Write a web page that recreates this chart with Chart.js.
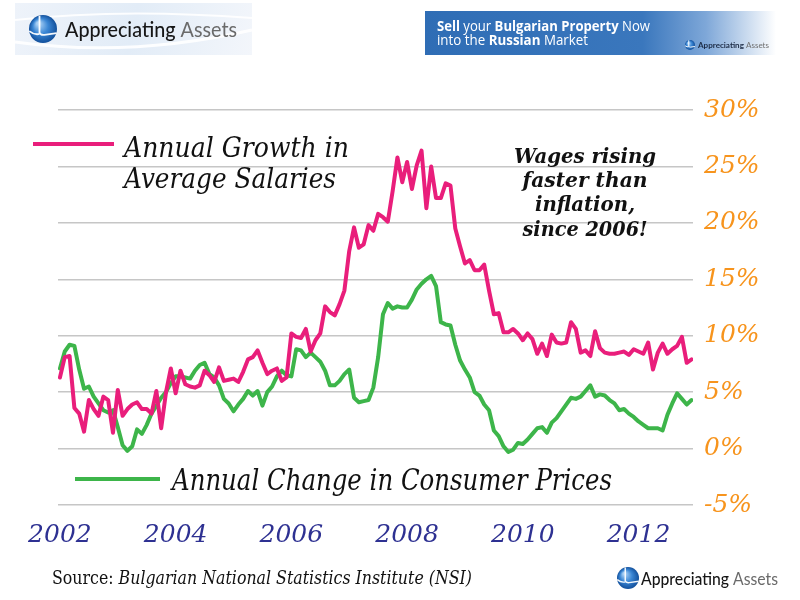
<!DOCTYPE html>
<html>
<head>
<meta charset="utf-8">
<script src="https://cdn.jsdelivr.net/npm/chart.js@4.4.1/dist/chart.umd.min.js"></script>
<style>
html,body{margin:0;padding:0;background:#ffffff;}
#wrap{position:relative;width:800px;height:600px;}
</style>
</head>
<body>
<div id="wrap"><canvas id="c" width="800" height="600"></canvas></div>
<script>
// ---- data (monthly, Jan 2002 .. Dec 2012), % year-on-year ----
const YEAR_LABELS = ['2002','2004','2006','2008','2010','2012'];
const YEAR_TICK_MONTHS = [0,24,48,72,96,120];

const SALARY_GROWTH = [
  6.3, 8.1, 8.2, 3.6, 3.1, 1.5, 4.3, 3.5, 2.9, 4.6, 4.3, 1.4,
  5.2, 2.9, 3.5, 3.9, 4.1, 3.5, 3.5, 3.1, 5.1, 1.8, 5.0, 7.1,
  4.9, 6.9, 5.7, 5.5, 5.4, 5.6, 6.9, 6.5, 5.9, 7.2, 6.0, 6.1,
  6.2, 5.9, 6.8, 7.9, 8.1, 8.7, 7.6, 6.6, 6.9, 7.1, 6.0, 6.3,
  10.2, 9.9, 9.8, 10.6, 8.6, 9.6, 10.2, 12.6, 12.1, 11.8, 12.8, 14.0,
  17.5, 19.6, 17.8, 18.1, 19.8, 19.3, 20.8, 20.5, 20.1, 22.8, 25.8, 23.6,
  25.4, 23.0, 25.1, 26.4, 21.3, 25.0, 22.2, 22.2, 23.5, 23.3, 19.5, 17.9,
  16.4, 16.7, 15.8, 15.8, 16.3, 14.0, 11.9, 12.0, 10.3, 10.3, 10.6, 10.2,
  9.6, 10.2, 9.7, 8.4, 9.3, 8.2, 10.1, 9.4, 9.3, 9.4, 11.2, 10.6,
  8.5, 8.7, 8.2, 10.4, 8.9, 8.5, 8.4, 8.4, 8.5, 8.6, 8.3, 8.8,
  8.6, 8.4, 9.4, 7.0, 8.5, 9.3, 8.4, 8.8, 9.1, 9.9, 7.6, 7.9
];

const CPI_CHANGE = [
  7.1, 8.6, 9.2, 9.1, 7.0, 5.3, 5.5, 4.6, 4.0, 3.4, 3.2, 3.4,
  1.9, 0.3, -0.2, 0.2, 1.7, 1.3, 2.1, 3.1, 3.8, 4.5, 5.0, 5.8,
  6.4, 6.4, 6.3, 6.2, 6.9, 7.4, 7.6, 6.6, 6.3, 5.6, 4.4, 4.0,
  3.3, 3.9, 4.4, 5.1, 4.7, 5.1, 3.8, 5.0, 5.5, 6.4, 6.9, 6.5,
  6.4, 8.8, 8.7, 8.1, 8.5, 8.1, 7.7, 6.9, 5.6, 5.6, 6.0, 6.6,
  7.0, 4.5, 4.1, 4.2, 4.3, 5.4, 8.1, 11.9, 12.9, 12.4, 12.6, 12.5,
  12.5, 13.2, 14.1, 14.6, 15.0, 15.3, 14.4, 11.2, 11.0, 10.9, 9.2, 7.8,
  7.0, 6.3, 5.0, 4.7, 3.9, 3.4, 1.6, 1.1, 0.2, -0.3, -0.1, 0.5,
  0.4, 0.8, 1.3, 1.8, 1.9, 1.4, 2.3, 2.7, 3.3, 3.9, 4.5, 4.4,
  4.6, 5.1, 5.6, 4.6, 4.8, 4.7, 4.3, 4.0, 3.4, 3.5, 3.1, 2.8,
  2.4, 2.1, 1.8, 1.8, 1.8, 1.6, 3.0, 4.0, 4.9, 4.4, 3.9, 4.3
];

const SALARY_LABEL = ['Annual Growth in', 'Average Salaries'];
const CPI_LABEL = 'Annual Change in Consumer Prices';
const NOTE_LINES = ['Wages rising', 'faster than', 'inflation,', 'since 2006!'];

const PINK = '#e91e7b';
const GREEN = '#3db54a';

// ---- drawing helpers ----
function drawRuns(ctx, runs, x, baseline, width, align) {
  ctx.save();
  let total = 0;
  runs.forEach(r => { ctx.font = r.font; r.w = ctx.measureText(r.t).width; total += r.w; });
  const s = width / total;
  let startX = x;
  if (align === 'center') startX = x - width / 2;
  ctx.translate(startX, baseline);
  ctx.scale(s, 1);
  ctx.textBaseline = 'alphabetic';
  ctx.textAlign = 'left';
  let cx = 0;
  runs.forEach(r => { ctx.font = r.font; ctx.fillStyle = r.color; ctx.fillText(r.t, cx, 0); cx += r.w; });
  ctx.restore();
}

function drawGlobe(ctx, cx, cy, r) {
  ctx.save();
  const g = ctx.createRadialGradient(cx - r*0.35, cy - r*0.4, r*0.1, cx, cy, r);
  g.addColorStop(0, '#a9d0f5');
  g.addColorStop(0.5, '#3a86d4');
  g.addColorStop(1, '#12509c');
  ctx.fillStyle = g;
  ctx.beginPath(); ctx.arc(cx, cy, r, 0, Math.PI*2); ctx.fill();
  ctx.strokeStyle = 'rgba(255,255,255,0.95)';
  ctx.lineWidth = Math.max(1, r*0.13);
  ctx.beginPath();
  ctx.moveTo(cx - r*0.25, cy - r*0.95);
  ctx.lineTo(cx - r*0.25, cy + r*0.25);
  ctx.quadraticCurveTo(cx - r*0.2, cy + r*0.45, cx + r*0.1, cy + r*0.42);
  ctx.lineTo(cx + r*0.98, cy + r*0.3);
  ctx.stroke();
  ctx.beginPath();
  ctx.moveTo(cx - r*0.98, cy + r*0.15);
  ctx.quadraticCurveTo(cx - r*0.6, cy + r*0.45, cx - r*0.25, cy + r*0.35);
  ctx.stroke();
  ctx.restore();
}

const decor = {
  id: 'decor',
  afterDraw(chart) {
    const ctx = chart.ctx;
    ctx.save();

    // header logo (left)
    const lg = ctx.createLinearGradient(15, 0, 252, 55);
    lg.addColorStop(0, '#eef3fa');
    lg.addColorStop(0.5, '#e2ecf7');
    lg.addColorStop(1, '#f3f6fb');
    ctx.fillStyle = lg;
    ctx.fillRect(15, 3, 237, 52);
    ctx.strokeStyle = 'rgba(255,255,255,0.9)';
    ctx.lineWidth = 3;
    ctx.beginPath(); ctx.moveTo(15, 42); ctx.quadraticCurveTo(130, 58, 252, 30); ctx.stroke();
    ctx.lineWidth = 2;
    ctx.beginPath(); ctx.moveTo(15, 20); ctx.quadraticCurveTo(120, 8, 252, 18); ctx.stroke();
    drawGlobe(ctx, 43, 29, 14);
    drawRuns(ctx, [
      {t:'Appreciating', font:'500 21px Lato', color:'#161616'},
      {t:' Assets', font:'21px Lato', color:'#6a6a6a'}
    ], 65, 37, 172);

    // header banner (right)
    const bg = ctx.createLinearGradient(425, 0, 776, 0);
    bg.addColorStop(0, '#2f6db5');
    bg.addColorStop(0.62, '#3a77bd');
    bg.addColorStop(0.8, '#7ea7d8');
    bg.addColorStop(1, '#ffffff');
    ctx.fillStyle = bg;
    ctx.fillRect(425, 11, 351, 44);
    drawRuns(ctx, [
      {t:'Sell', font:'bold 15px "Open Sans"', color:'#ffffff'},
      {t:' your ', font:'15px "Open Sans"', color:'#ffffff'},
      {t:'Bulgarian Property', font:'bold 15px "Open Sans"', color:'#ffffff'},
      {t:' Now', font:'15px "Open Sans"', color:'#ffffff'}
    ], 437, 31, 213);
    drawRuns(ctx, [
      {t:'into the ', font:'15px "Open Sans"', color:'#ffffff'},
      {t:'Russian', font:'bold 15px "Open Sans"', color:'#ffffff'},
      {t:' Market', font:'15px "Open Sans"', color:'#ffffff'}
    ], 437, 45, 151);
    drawGlobe(ctx, 690, 45, 5);
    drawRuns(ctx, [
      {t:'Appreciating', font:'bold 8px Lato', color:'#1c2b45'},
      {t:' Assets', font:'8px Lato', color:'#707070'}
    ], 698, 48, 71);

    // salaries legend
    ctx.strokeStyle = PINK; ctx.lineWidth = 4; ctx.lineCap = 'butt';
    ctx.beginPath(); ctx.moveTo(33, 144); ctx.lineTo(114, 144); ctx.stroke();
    drawRuns(ctx, [{t:SALARY_LABEL[0], font:'italic 27px "DejaVu Serif"', color:'#111111'}], 124, 157, 225);
    drawRuns(ctx, [{t:SALARY_LABEL[1], font:'italic 27px "DejaVu Serif"', color:'#111111'}], 124, 188, 212);

    // annotation
    const noteW = [142, 125, 100, 125];
    const noteB = [163, 187, 211, 236];
    NOTE_LINES.forEach((t, i) => {
      drawRuns(ctx, [{t, font:'bold italic 20px "DejaVu Serif"', color:'#111111'}], 585, noteB[i], noteW[i], 'center');
    });

    // CPI legend
    ctx.strokeStyle = GREEN; ctx.lineWidth = 4;
    ctx.beginPath(); ctx.moveTo(75, 479); ctx.lineTo(160, 479); ctx.stroke();
    drawRuns(ctx, [{t:CPI_LABEL, font:'italic 29px "DejaVu Serif"', color:'#111111'}], 172, 490, 440);

    // footer
    drawRuns(ctx, [
      {t:'Source: ', font:'18px "DejaVu Serif"', color:'#111111'},
      {t:'Bulgarian National Statistics Institute (NSI)', font:'italic 18px "DejaVu Serif"', color:'#111111'}
    ], 52, 584, 420);
    drawGlobe(ctx, 628, 578, 11);
    drawRuns(ctx, [
      {t:'Appreciating', font:'500 17px Lato', color:'#161616'},
      {t:' Assets', font:'17px Lato', color:'#6a6a6a'}
    ], 641, 585, 137);

    ctx.restore();
  }
};

new Chart(document.getElementById('c').getContext('2d'), {
  type: 'line',
  data: {
    datasets: [
      {
        label: SALARY_LABEL.join(' '),
        data: SALARY_GROWTH.map((v, i) => ({x: i, y: v})),
        borderColor: PINK, borderWidth: 4, pointRadius: 0, tension: 0,
        borderJoinStyle: 'round', borderCapStyle: 'round', fill: false
      },
      {
        label: CPI_LABEL,
        data: CPI_CHANGE.map((v, i) => ({x: i, y: v})),
        borderColor: GREEN, borderWidth: 4, pointRadius: 0, tension: 0,
        borderJoinStyle: 'round', borderCapStyle: 'round', fill: false
      }
    ]
  },
  options: {
    responsive: false,
    animation: false,
    devicePixelRatio: 1,
    layout: {padding: {left: 58, top: 110, right: 0, bottom: 0}},
    plugins: {legend: {display: false}, tooltip: {enabled: false}},
    scales: {
      x: {
        type: 'linear', min: -0.4, max: 131.3,
        grid: {display: false}, border: {display: false},
        afterBuildTicks: (s) => { s.ticks = YEAR_TICK_MONTHS.map(v => ({value: v})); },
        afterFit: (s) => { s.height = 95; },
        ticks: {
          padding: 7, maxRotation: 0, autoSkip: false, color: '#2e3192',
          font: {family: '"DejaVu Serif"', style: 'italic', size: 25},
          callback: (v, i) => YEAR_LABELS[i]
        }
      },
      y: {
        position: 'right', min: -5, max: 30,
        grid: {color: '#c6c6c6', lineWidth: 1.5, drawTicks: false},
        border: {display: false},
        afterFit: (s) => { s.width = 107; },
        ticks: {
          stepSize: 5, padding: 11, color: '#f7941d',
          font: {family: '"DejaVu Serif"', style: 'italic', size: 25},
          callback: (v) => v + '%'
        }
      }
    }
  },
  plugins: [decor]
});
</script>
</body>
</html>
